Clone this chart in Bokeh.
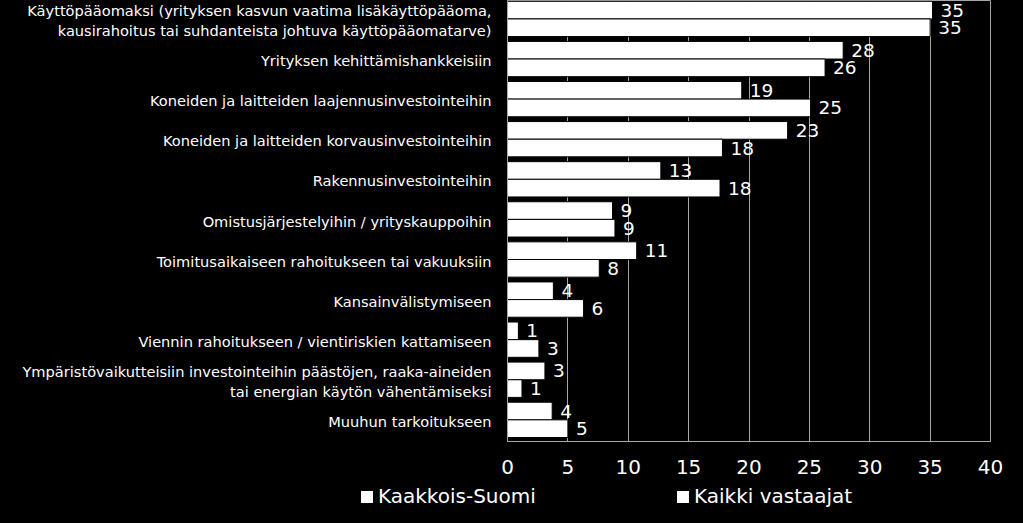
from bokeh.plotting import figure
from bokeh.models import ColumnDataSource, Range1d, FixedTicker, Div
from bokeh.layouts import column
from bokeh.core.properties import value
from bokeh.embed import file_html
from bokeh.resources import INLINE

categories = [
    "Käyttöpääomaksi (yrityksen kasvun vaatima lisäkäyttöpääoma,\nkausirahoitus tai suhdanteista johtuva käyttöpääomatarve)",
    "Yrityksen kehittämishankkeisiin",
    "Koneiden ja laitteiden laajennusinvestointeihin",
    "Koneiden ja laitteiden korvausinvestointeihin",
    "Rakennusinvestointeihin",
    "Omistusjärjestelyihin / yrityskauppoihin",
    "Toimitusaikaiseen rahoitukseen tai vakuuksiin",
    "Kansainvälistymiseen",
    "Viennin rahoitukseen / vientiriskien kattamiseen",
    "Ympäristövaikutteisiin investointeihin päästöjen, raaka-aineiden\ntai energian käytön vähentämiseksi",
    "Muuhun tarkoitukseen",
]
kaakkois_suomi = [35.2, 27.8, 19.4, 23.2, 12.7, 8.7, 10.7, 3.8, 0.9, 3.1, 3.7]
kaikki_vastaajat = [35.0, 26.3, 25.1, 17.8, 17.6, 8.9, 7.6, 6.3, 2.6, 1.2, 5.0]
series_names = ["Kaakkois-Suomi", "Kaikki vastaajat"]
x_ticks = [0, 5, 10, 15, 20, 25, 30, 35, 40]

n = len(categories)
pos = [n - 1 - i for i in range(n)]
h = 0.44
shift = 0.04
y1 = [p_ + shift + h / 2 for p_ in pos]
y2 = [p_ + shift - h / 2 for p_ in pos]

src1 = ColumnDataSource(dict(y=y1, v=kaakkois_suomi, lab=[f"{v:.0f}" for v in kaakkois_suomi]))
src2 = ColumnDataSource(dict(y=y2, v=kaikki_vastaajat, lab=[f"{v:.0f}" for v in kaikki_vastaajat]))

p = figure(width=1023, height=483, output_backend="svg", toolbar_location=None,
           x_range=Range1d(0, 40), y_range=Range1d(-0.5, n - 0.5),
           min_border_left=507, min_border_right=33, min_border_top=0, min_border_bottom=42)
p.background_fill_color = "black"
p.border_fill_color = "black"
p.outline_line_color = "#a6a6a6"

r1 = p.hbar(y="y", left=0, right="v", height=h, source=src1, fill_color="white", line_color="black", line_width=1)
r2 = p.hbar(y="y", left=0, right="v", height=h, source=src2, fill_color="white", line_color="black", line_width=1)

for s in (src1, src2):
    p.text(x="v", y="y", text="lab", source=s, x_offset=8, text_baseline="middle",
           text_color="white", text_font=value("DejaVu Sans"), text_font_size="18.5px")

p.xaxis.ticker = FixedTicker(ticks=x_ticks)
p.xaxis.major_label_text_color = "white"
p.xaxis.major_label_text_font = "DejaVu Sans"
p.xaxis.major_label_text_font_size = "20px"
p.xaxis.major_label_standoff = 12
p.xaxis.major_tick_line_color = None
p.xaxis.minor_tick_line_color = None
p.xaxis.axis_line_color = "#a6a6a6"

p.yaxis.ticker = FixedTicker(ticks=pos)
p.yaxis.major_label_overrides = {pp: c for pp, c in zip(pos, categories)}
p.yaxis.major_label_text_color = "white"
p.yaxis.major_label_text_font = "DejaVu Sans"
p.yaxis.major_label_text_font_size = "14.6px"
p.yaxis.major_label_text_align = "right"
p.yaxis.major_label_standoff = 10
p.yaxis.major_tick_line_color = None
p.yaxis.minor_tick_line_color = None
p.yaxis.axis_line_color = "#a6a6a6"

p.xgrid.grid_line_color = "#a6a6a6"
p.ygrid.grid_line_color = None

# legend strip below the chart (HTML, so it is not clipped by the plot frame)
legend_x = [361, 677]
items = "".join(
    f'<div style="position:absolute;left:{x}px;top:3px;white-space:nowrap;line-height:24px;">'
    f'<span style="display:inline-block;width:12px;height:12px;background:white;margin-right:5px;"></span>'
    f'{name}</div>'
    for name, x in zip(series_names, legend_x)
)
html = ('<div style="position:relative;width:1023px;height:42px;background:black;'
        'font-family:\'DejaVu Sans\';font-size:20px;color:white;">' + items + '</div>')
leg = Div(text=html, width=1023, height=42, margin=(-2, 0, 0, 0),
          styles={"background-color": "black"})

layout = column(p, leg, spacing=0, styles={"background-color": "black"})
open("out.html", "w").write(file_html(layout, INLINE))
